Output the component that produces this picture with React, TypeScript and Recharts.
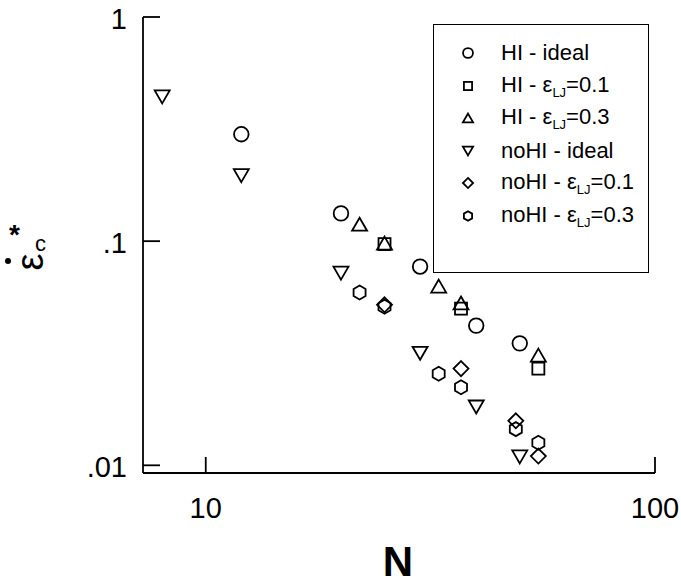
import { Legend, Scatter, ScatterChart, XAxis, YAxis } from "recharts";

// Values: N (chain length) vs critical epsilon.
const hiIdeal = [
  { N: 12, eps: 0.3 },
  { N: 20, eps: 0.133 },
  { N: 30, eps: 0.077 },
  { N: 40, eps: 0.042 },
  { N: 50, eps: 0.035 },
];
const hiLJ01 = [
  { N: 25, eps: 0.097 },
  { N: 37, eps: 0.05 },
  { N: 55, eps: 0.027 },
];
const hiLJ03 = [
  { N: 22, eps: 0.119 },
  { N: 25, eps: 0.098 },
  { N: 33, eps: 0.063 },
  { N: 37, eps: 0.053 },
  { N: 55, eps: 0.031 },
];
const noHiIdeal = [
  { N: 8, eps: 0.44 },
  { N: 12, eps: 0.196 },
  { N: 20, eps: 0.072 },
  { N: 30, eps: 0.0316 },
  { N: 40, eps: 0.0182 },
  { N: 50, eps: 0.0109 },
];
const noHiLJ01 = [
  { N: 25, eps: 0.052 },
  { N: 37, eps: 0.027 },
  { N: 49, eps: 0.0158 },
  { N: 55, eps: 0.011 },
];
const noHiLJ03 = [
  { N: 22, eps: 0.059 },
  { N: 25, eps: 0.051 },
  { N: 33, eps: 0.0256 },
  { N: 37, eps: 0.0223 },
  { N: 49, eps: 0.0145 },
  { N: 55, eps: 0.0126 },
];

const xTicks = [10, 100];
const yTicks = [0.01, 0.1, 1];
const yTickLabels: Record<string, string> = { "0.01": ".01", "0.1": ".1", "1": "1" };

type Kind = "circle" | "square" | "triangle" | "triangleDown" | "diamond" | "hexagon";

const SERIES: { name: string; data: { N: number; eps: number }[]; kind: Kind; lj?: string }[] = [
  { name: "HI - ideal", data: hiIdeal, kind: "circle" },
  { name: "HI - ", data: hiLJ01, kind: "square", lj: "=0.1" },
  { name: "HI - ", data: hiLJ03, kind: "triangle", lj: "=0.3" },
  { name: "noHI - ideal", data: noHiIdeal, kind: "triangleDown" },
  { name: "noHI - ", data: noHiLJ01, kind: "diamond", lj: "=0.1" },
  { name: "noHI - ", data: noHiLJ03, kind: "hexagon", lj: "=0.3" },
];

const FONT = "'Liberation Sans', Arial, sans-serif";

function Marker({ cx, cy, kind, s = 1 }: { cx: number; cy: number; kind: Kind; s?: number }) {
  const st = { fill: "none", stroke: "#000", strokeWidth: 1.8 };
  const pts = (p: number[][]) => p.map(([a, b]) => `${cx + a * s},${cy + b * s}`).join(" ");
  switch (kind) {
    case "circle":
      return <circle cx={cx} cy={cy} r={7.3 * s} {...st} />;
    case "square":
      return <rect x={cx - 6 * s} y={cy - 6 * s} width={12 * s} height={12 * s} {...st} />;
    case "triangle":
      return <polygon points={pts([[0, -6.5], [7.5, 6.5], [-7.5, 6.5]])} {...st} />;
    case "triangleDown":
      return <polygon points={pts([[0, 6.5], [7.5, -6.5], [-7.5, -6.5]])} {...st} />;
    case "diamond":
      return <polygon points={pts([[0, -7.5], [7.5, 0], [0, 7.5], [-7.5, 0]])} {...st} />;
    default:
      return (
        <polygon
          points={pts([[0, -7], [6, -3.5], [6, 3.5], [0, 7], [-6, 3.5], [-6, -3.5]])}
          {...st}
        />
      );
  }
}

function XTick({ x, y, payload }: any) {
  return (
    <g>
      <line x1={x} y1={y} x2={x} y2={y - 16} stroke="#000" strokeWidth={1.8} />
      <text x={x} y={y + 45} textAnchor="middle" fontSize={29} fontFamily={FONT} fill="#000">
        {payload.value}
      </text>
    </g>
  );
}

function YTick({ x, y, payload }: any) {
  return (
    <g>
      <line x1={x} y1={y} x2={x + 17} y2={y} stroke="#000" strokeWidth={1.8} />
      <text x={x - 16} y={y + 11.5} textAnchor="end" fontSize={29} fontFamily={FONT} fill="#000">
        {yTickLabels[String(payload.value)]}
      </text>
    </g>
  );
}

function LegendBox() {
  return (
    <div
      style={{
        width: 216,
        height: 249,
        boxSizing: "border-box",
        border: "1.8px solid #000",
        background: "#fff",
        fontFamily: FONT,
        fontSize: 22,
        color: "#000",
        paddingTop: 12,
      }}
    >
      {SERIES.map((s, i) => (
        <div key={i} style={{ height: 32.5, display: "flex", alignItems: "center" }}>
          <svg width={67} height={24} style={{ flex: "none" }}>
            <Marker cx={34} cy={12} kind={s.kind} s={0.68} />
          </svg>
          <span style={{ whiteSpace: "nowrap" }}>
            {s.name}
            {s.lj && (
              <>
                ε<sub style={{ fontSize: 13, verticalAlign: -5 }}>LJ</sub>
                {s.lj}
              </>
            )}
          </span>
        </div>
      ))}
    </div>
  );
}

function YLabel() {
  return (
    <g fontFamily={FONT} fill="#000">
      <circle cx={8} cy={261} r={3} />
      <text x={9} y={244} fontSize={28} fontWeight="bold">*</text>
      <text
        x={0}
        y={0}
        fontSize={38}
        textAnchor="middle"
        transform="translate(43 262) rotate(-90)"
      >
        ε
      </text>
      <text x={35} y={251} fontSize={22}>c</text>
    </g>
  );
}

function XLabel() {
  return (
    <text x={398} y={576} textAnchor="middle" fontSize={42} fontWeight="bold" fontFamily={FONT} fill="#000">
      N
    </text>
  );
}

export default function App() {
  const line = { stroke: "#000", strokeWidth: 1.8 };
  return (
    <div style={{ position: "absolute", left: 0, top: 0, background: "#fff" }}>
      <ScatterChart width={681} height={586} margin={{ top: 17, right: 26, bottom: 53, left: 83 }}>
        <XAxis
          type="number"
          dataKey="N"
          scale="log"
          domain={[7.25, 100]}
          allowDataOverflow
          ticks={xTicks}
          interval={0}
          height={60}
          tickSize={0}
          tickMargin={0}
          tickLine={false}
          axisLine={line}
          tick={<XTick />}
          label={{ content: () => <XLabel /> }}
        />
        <XAxis
          xAxisId="top"
          orientation="top"
          type="number"
          scale="log"
          domain={[7.25, 100]}
          allowDataOverflow
          height={0}
          tick={false}
          tickLine={false}
          axisLine={line}
        />
        <YAxis
          type="number"
          dataKey="eps"
          scale="log"
          domain={[0.00924, 1]}
          allowDataOverflow
          ticks={yTicks}
          interval={0}
          width={60}
          tickSize={0}
          tickMargin={0}
          tickLine={false}
          axisLine={line}
          tick={<YTick />}
          label={{ content: () => <YLabel /> }}
        />
        <YAxis
          yAxisId="right"
          orientation="right"
          type="number"
          scale="log"
          domain={[0.00924, 1]}
          allowDataOverflow
          width={0}
          tick={false}
          tickLine={false}
          axisLine={line}
        />
        <Legend
          layout="vertical"
          align="center"
          verticalAlign="middle"
          wrapperStyle={{ left: 433, top: 24, width: 216 }}
          content={() => <LegendBox />}
        />
        {SERIES.map((s, i) => (
          <Scatter
            key={i}
            name={s.name + (s.lj ?? "")}
            data={s.data}
            isAnimationActive={false}
            shape={(p: any) => <Marker cx={p.cx} cy={p.cy} kind={s.kind} />}
          />
        ))}
      </ScatterChart>
    </div>
  );
}
